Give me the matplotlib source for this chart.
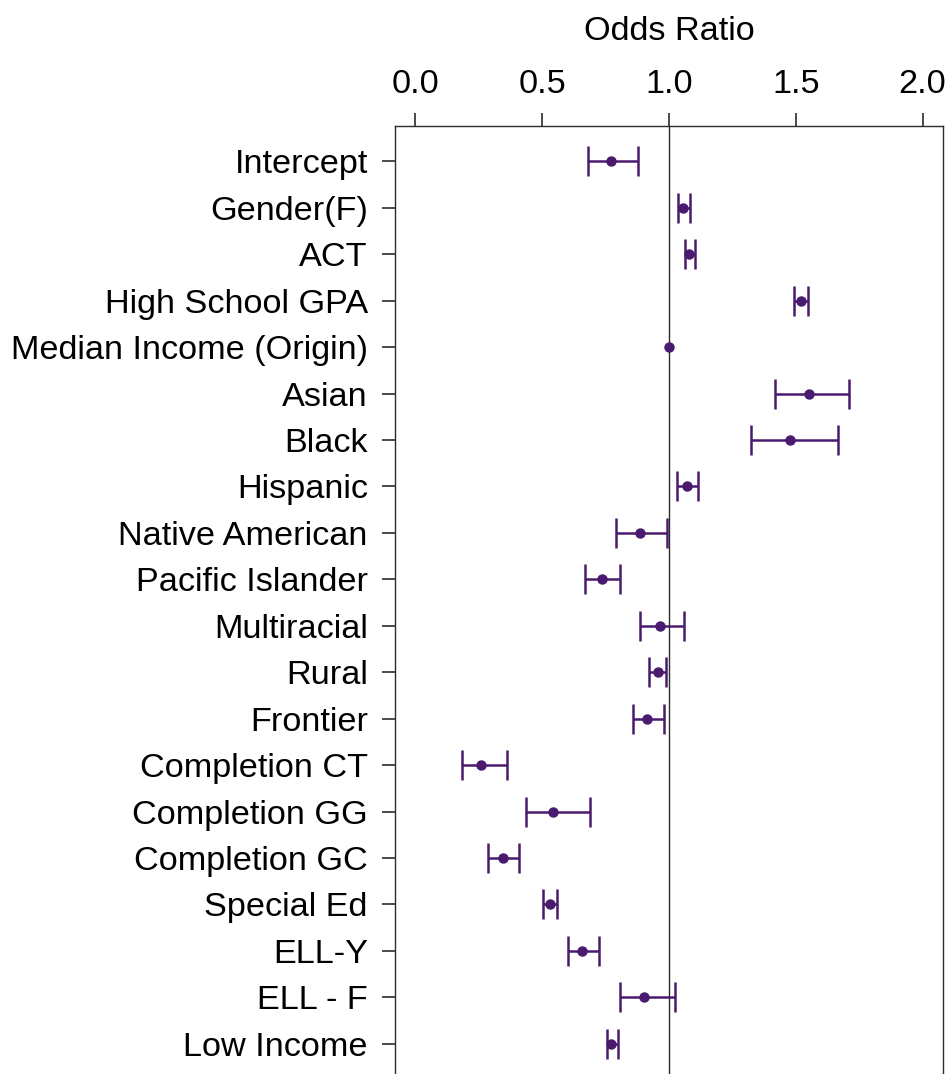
import numpy as np
import matplotlib
matplotlib.use("Agg")
import matplotlib.pyplot as plt

plt.rcParams['font.family'] = ['Liberation Sans', 'DejaVu Sans']

# odds ratios with 95% confidence limits, top row first
terms = ['Intercept', 'Gender(F)', 'ACT', 'High School GPA',
         'Median Income (Origin)', 'Asian', 'Black', 'Hispanic',
         'Native American', 'Pacific Islander', 'Multiracial', 'Rural',
         'Frontier', 'Completion CT', 'Completion GG', 'Completion GC',
         'Special Ed', 'ELL-Y', 'ELL - F', 'Low Income']
odds = [0.771, 1.055, 1.081, 1.519, 1.000, 1.553, 1.479, 1.070, 0.884,
        0.737, 0.965, 0.955, 0.915, 0.258, 0.544, 0.345, 0.530, 0.658,
        0.903, 0.772]
ci_low = [0.682, 1.034, 1.064, 1.492, 1.000, 1.419, 1.322, 1.031, 0.791,
          0.670, 0.887, 0.922, 0.859, 0.185, 0.436, 0.287, 0.504, 0.602,
          0.807, 0.755]
ci_high = [0.879, 1.084, 1.101, 1.548, 1.000, 1.711, 1.665, 1.113, 0.992,
           0.808, 1.061, 0.988, 0.982, 0.363, 0.688, 0.409, 0.560, 0.725,
           1.022, 0.798]

odds = np.array(odds)
ci_low = np.array(ci_low)
ci_high = np.array(ci_high)
ypos = np.arange(len(terms))

purple = '#4a1a6e'
dark = '#2b2b2b'

fig = plt.figure(figsize=(9.51, 10.74), dpi=100)
ax = fig.add_axes([0.4153, -0.0047, 0.5762, 0.8873])

ax.axvline(1.0, color=dark, lw=1.0, zorder=1)

# whiskers only where the interval has some width
has_ci = (ci_high - ci_low) > 0
ax.errorbar(odds[has_ci], ypos[has_ci],
            xerr=[odds[has_ci] - ci_low[has_ci], ci_high[has_ci] - odds[has_ci]],
            fmt='none', ecolor=purple, elinewidth=1.8, capsize=10.5,
            capthick=1.8, zorder=2)
ax.plot(odds, ypos, 'o', color=purple, ms=6.5, zorder=3)

ax.set_xlim(-0.08, 2.08)
ax.set_ylim(len(terms) - 1 + 0.76, -0.76)

ax.set_xticks([0.0, 0.5, 1.0, 1.5, 2.0])
ax.set_xticklabels(['0.0', '0.5', '1.0', '1.5', '2.0'])
ax.set_yticks(ypos)
ax.set_yticklabels(terms)

ax.xaxis.tick_top()
ax.xaxis.set_label_position('top')
ax.set_xlabel('Odds Ratio', fontsize=24.7, labelpad=21)

ax.tick_params(axis='both', labelsize=24.7, length=9.5, width=1.2,
               color=dark)
ax.tick_params(axis='x', pad=9.5)
ax.tick_params(axis='y', pad=10)

for sp in ax.spines.values():
    sp.set_color(dark)
    sp.set_linewidth(1.0)

fig.savefig('out.png', dpi=100)
